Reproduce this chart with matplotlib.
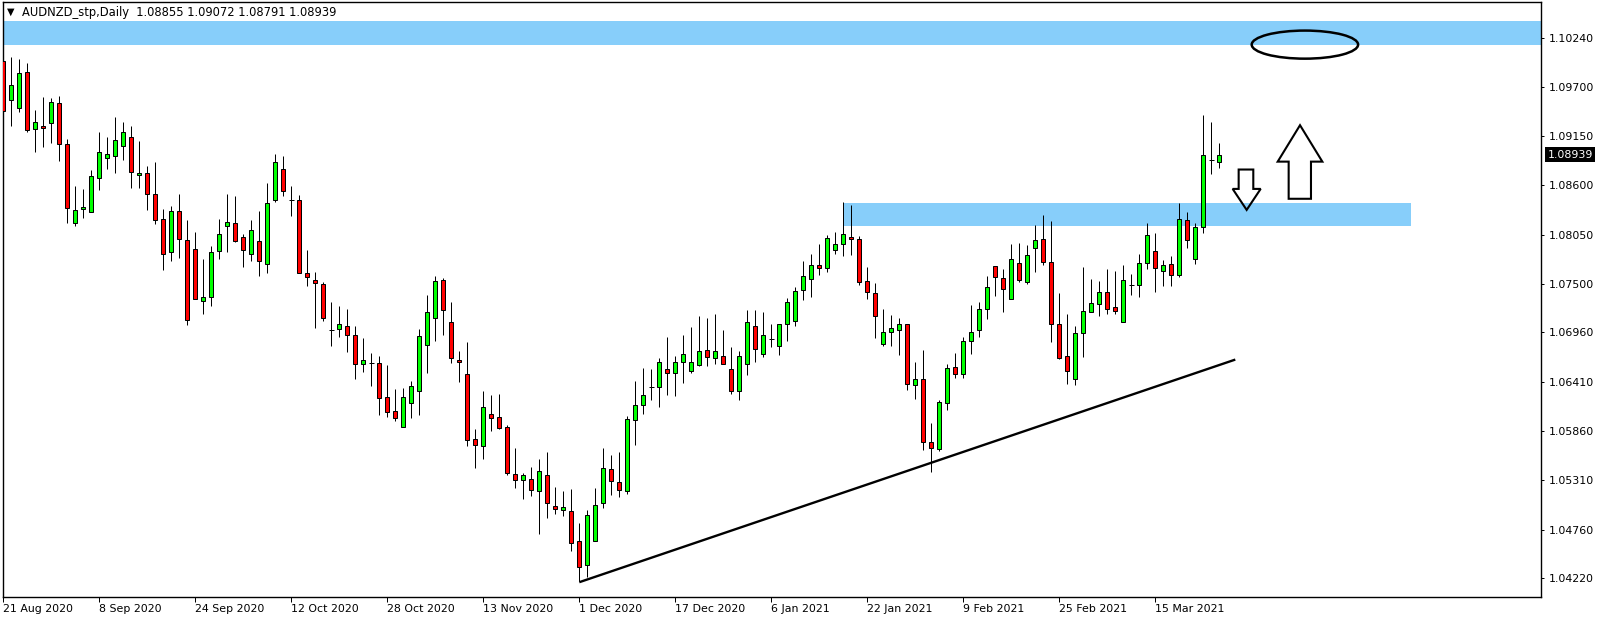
import matplotlib
matplotlib.use("Agg")
import matplotlib.pyplot as plt
import matplotlib.transforms as mtransforms
from matplotlib.patches import Ellipse, Polygon, Rectangle
import numpy as np

# ---------------- data ----------------
symbol_title = "AUDNZD_stp,Daily  1.08855 1.09072 1.08791 1.08939"
last_price_label = "1.08939"
last_price = 1.08939

date_tick_idx = [0, 12, 24, 36, 48, 60, 72, 84, 96, 108, 120, 132, 144]
date_tick_labels = ["21 Aug 2020", "8 Sep 2020", "24 Sep 2020", "12 Oct 2020",
                    "28 Oct 2020", "13 Nov 2020", "1 Dec 2020", "17 Dec 2020",
                    "6 Jan 2021", "22 Jan 2021", "9 Feb 2021", "25 Feb 2021",
                    "15 Mar 2021"]

price_ticks = [1.10240, 1.09700, 1.09150, 1.08600, 1.08050, 1.07500,
               1.06960, 1.06410, 1.05860, 1.05310, 1.04760, 1.04220]
price_tick_labels = ["1.10240", "1.09700", "1.09150", "1.08600", "1.08050", "1.07500",
                     "1.06960", "1.06410", "1.05860", "1.05310", "1.04760", "1.04220"]

opens = [1.09989, 1.09552, 1.09464, 1.09865, 1.09230, 1.09261, 1.09296, 1.09521, 1.09062, 1.08179,
         1.08334, 1.08298, 1.08678, 1.08903, 1.08925, 1.09035, 1.09137, 1.08713, 1.08735, 1.08501,
         1.08223, 1.07853, 1.08312, 1.07989, 1.07888, 1.07305, 1.07350, 1.07866, 1.08144, 1.08179,
         1.08020, 1.07835, 1.07976, 1.07720, 1.08435, 1.08779, 1.08431, 1.08435, 1.07619, 1.07539,
         1.07495, 1.06992, 1.06996, 1.07027, 1.06926, 1.06604, 1.06621, 1.06617, 1.06237, 1.06087,
         1.05906, 1.06176, 1.06308, 1.06824, 1.07124, 1.07544, 1.07080, 1.06657, 1.06493, 1.05774,
         1.05694, 1.06052, 1.06012, 1.05902, 1.05381, 1.05315, 1.05328, 1.05191, 1.05372, 1.05028,
         1.04979, 1.04971, 1.04635, 1.04366, 1.04635, 1.05054, 1.05438, 1.05293, 1.05191, 1.05986,
         1.06153, 1.06352, 1.06352, 1.06555, 1.06511, 1.06626, 1.06533, 1.06599, 1.06767, 1.06679,
         1.06701, 1.06555, 1.06312, 1.06604, 1.07027, 1.06714, 1.06886, 1.06807, 1.07049, 1.07085,
         1.07429, 1.07553, 1.07707, 1.07676, 1.07875, 1.07945, 1.08020, 1.07998, 1.07530, 1.07394,
         1.06833, 1.06961, 1.06983, 1.07058, 1.06379, 1.06436, 1.05739, 1.05659, 1.06176, 1.06573,
         1.06493, 1.06860, 1.06983, 1.07226, 1.07698, 1.07561, 1.07327, 1.07729, 1.07522, 1.07897,
         1.07998, 1.07742, 1.07058, 1.06692, 1.06436, 1.06948, 1.07182, 1.07279, 1.07407, 1.07239,
         1.07071, 1.07486, 1.07486, 1.07729, 1.07866, 1.07641, 1.07720, 1.07605, 1.08210, 1.07782,
         1.08131, 1.08885, 1.08855]
highs = [1.10311, 1.10024, 1.10002, 1.09967, 1.09433, 1.09578, 1.09574, 1.09592, 1.09119, 1.08590,
         1.08563, 1.08775, 1.09190, 1.09133, 1.09358, 1.09300, 1.09256, 1.09097, 1.08819, 1.08863,
         1.08338, 1.08373, 1.08497, 1.08215, 1.08082, 1.07778, 1.07923, 1.08223, 1.08497, 1.08475,
         1.08060, 1.08215, 1.08312, 1.08629, 1.08943, 1.08930, 1.08594, 1.08493, 1.07879, 1.07636,
         1.07517, 1.07301, 1.07252, 1.07222, 1.07032, 1.06895, 1.06727, 1.06696, 1.06595, 1.06326,
         1.06339, 1.06414, 1.06996, 1.07376, 1.07588, 1.07561, 1.07301, 1.06749, 1.06851, 1.05880,
         1.06304, 1.06259, 1.06268, 1.05924, 1.05677, 1.05390, 1.05465, 1.05544, 1.05628, 1.05240,
         1.05187, 1.05218, 1.04838, 1.04979, 1.05231, 1.05677, 1.05589, 1.05628, 1.06030, 1.06414,
         1.06559, 1.06551, 1.06679, 1.06908, 1.06696, 1.06930, 1.07018, 1.07142, 1.07120, 1.07164,
         1.06988, 1.06798, 1.06749, 1.07208, 1.07208, 1.07186, 1.07058, 1.07058, 1.07345, 1.07469,
         1.07756, 1.07835, 1.07945, 1.08047, 1.08078, 1.08413, 1.08382, 1.08038, 1.07689, 1.07513,
         1.07222, 1.07151, 1.07120, 1.07058, 1.06630, 1.06763, 1.05946, 1.06202, 1.06604, 1.06727,
         1.06904, 1.07266, 1.07301, 1.07588, 1.07698, 1.07667, 1.07945, 1.07959, 1.07932, 1.08157,
         1.08272, 1.08206, 1.07398, 1.07164, 1.07032, 1.07689, 1.07557, 1.07535, 1.07667, 1.07645,
         1.07711, 1.07610, 1.07835, 1.08179, 1.08069, 1.07764, 1.07808, 1.08400, 1.08303, 1.08179,
         1.09380, 1.09309, 1.09072]
lows = [1.09384, 1.09265, 1.09415, 1.09194, 1.08969, 1.09027, 1.09075, 1.08868, 1.08184, 1.08144,
        1.08232, 1.08298, 1.08550, 1.08784, 1.08740, 1.08885, 1.08568, 1.08572, 1.08320, 1.08166,
        1.07650, 1.07760, 1.07791, 1.07045, 1.07336, 1.07160, 1.07257, 1.07782, 1.07857, 1.07963,
        1.07694, 1.07756, 1.07583, 1.07623, 1.08409, 1.08479, 1.08259, 1.07619, 1.07478, 1.07014,
        1.07089, 1.06811, 1.06908, 1.06745, 1.06440, 1.06520, 1.06365, 1.06039, 1.06021, 1.05972,
        1.05906, 1.06008, 1.06039, 1.06502, 1.06868, 1.06935, 1.06621, 1.06405, 1.05694, 1.05447,
        1.05544, 1.05862, 1.05884, 1.05368, 1.05222, 1.05103, 1.05134, 1.04710, 1.04887, 1.04935,
        1.04918, 1.04520, 1.04185, 1.04229, 1.04635, 1.05002, 1.05152, 1.05125, 1.05156, 1.05703,
        1.06052, 1.06206, 1.06131, 1.06264, 1.06251, 1.06396, 1.06511, 1.06586, 1.06586, 1.06608,
        1.06612, 1.06273, 1.06206, 1.06489, 1.06635, 1.06687, 1.06802, 1.06710, 1.06868, 1.07032,
        1.07323, 1.07350, 1.07605, 1.07636, 1.07835, 1.07813, 1.07817, 1.07486, 1.07336, 1.06899,
        1.06811, 1.06811, 1.06710, 1.06317, 1.06220, 1.05646, 1.05403, 1.05637, 1.06096, 1.06449,
        1.06454, 1.06723, 1.06908, 1.07111, 1.07367, 1.07182, 1.07327, 1.07522, 1.07504, 1.07636,
        1.07716, 1.06855, 1.06665, 1.06387, 1.06379, 1.06687, 1.07182, 1.07146, 1.07160, 1.07169,
        1.07071, 1.07380, 1.07358, 1.07663, 1.07411, 1.07473, 1.07473, 1.07575, 1.07897, 1.07725,
        1.08064, 1.08722, 1.08791]
closes = [1.09428, 1.09715, 1.09856, 1.09216, 1.09309, 1.09243, 1.09530, 1.09062, 1.08347, 1.08325,
          1.08360, 1.08704, 1.08974, 1.08943, 1.09106, 1.09194, 1.08744, 1.08735, 1.08501, 1.08210,
          1.07831, 1.08312, 1.07998, 1.07094, 1.07336, 1.07350, 1.07853, 1.08056, 1.08188, 1.07976,
          1.07875, 1.08100, 1.07751, 1.08400, 1.08863, 1.08532, 1.08431, 1.07619, 1.07575, 1.07508,
          1.07124, 1.06992, 1.07058, 1.06926, 1.06604, 1.06648, 1.06621, 1.06228, 1.06074, 1.06008,
          1.06237, 1.06361, 1.06917, 1.07182, 1.07530, 1.07204, 1.06679, 1.06635, 1.05761, 1.05703,
          1.06131, 1.06008, 1.05893, 1.05390, 1.05315, 1.05372, 1.05205, 1.05416, 1.05054, 1.04988,
          1.05015, 1.04613, 1.04340, 1.04926, 1.05037, 1.05452, 1.05302, 1.05200, 1.05999, 1.06153,
          1.06259, 1.06352, 1.06626, 1.06502, 1.06626, 1.06714, 1.06635, 1.06758, 1.06683, 1.06749,
          1.06612, 1.06312, 1.06701, 1.07071, 1.06780, 1.06935, 1.06886, 1.07049, 1.07297, 1.07416,
          1.07583, 1.07707, 1.07676, 1.08007, 1.07941, 1.08056, 1.07998, 1.07526, 1.07407, 1.07146,
          1.06961, 1.07005, 1.07058, 1.06387, 1.06445, 1.05739, 1.05672, 1.06189, 1.06568, 1.06493,
          1.06860, 1.06961, 1.07226, 1.07464, 1.07575, 1.07438, 1.07773, 1.07539, 1.07817, 1.07989,
          1.07742, 1.07058, 1.06679, 1.06533, 1.06948, 1.07195, 1.07283, 1.07407, 1.07217, 1.07195,
          1.07539, 1.07486, 1.07729, 1.08042, 1.07676, 1.07716, 1.07597, 1.08223, 1.07989, 1.08135,
          1.08938, 1.08885, 1.08939]

# ---------------- chart drawings (objects placed on the chart) ----------------
top_zone = (1.10165, 1.10430)
mid_zone_x = (105, 176)
mid_zone_y = (1.08148, 1.08404)
trend_x = [72, 154]
trend_y = [1.04176, 1.06657]
ellipse_center = (162.7, 1.10167)
ellipse_size = (13.3, 0.00313)
down_arrow = [(154.42, 1.08775), (156.25, 1.08775), (156.25, 1.08559), (157.17, 1.08559),
              (155.42, 1.08325), (153.67, 1.08559), (154.42, 1.08559)]
up_arrow = [(160.67, 1.08449), (163.46, 1.08449), (163.46, 1.08863), (164.88, 1.08863),
            (162.09, 1.09269), (159.30, 1.08863), (160.67, 1.08863)]

# ---------------- figure ----------------
W, H = 1604, 619
PX = 72.0 / 100.0  # points per pixel
plt.rcParams['font.family'] = ['DejaVu Sans']
fig = plt.figure(figsize=(W / 100, H / 100), dpi=100, facecolor='white')
ax_l, ax_r, ax_t, ax_b = 2.5, 1541.0, 2.0, 597.0
ax = fig.add_axes([ax_l / W, (H - ax_b) / H, (ax_r - ax_l) / W, (ax_b - ax_t) / H])
ax.set_facecolor('white')

o = np.array(opens); h = np.array(highs); l = np.array(lows); c = np.array(closes)
idx = np.arange(len(o))
up = c > o
dn = c < o
dj = c == o

ax.axhspan(top_zone[0], top_zone[1], color='#87CEFA', lw=0, zorder=1)
ax.add_patch(Rectangle((mid_zone_x[0], mid_zone_y[0]), mid_zone_x[1] - mid_zone_x[0],
                       mid_zone_y[1] - mid_zone_y[0], facecolor='#87CEFA', edgecolor='none', zorder=1))

ax.vlines(idx, l, h, color='black', lw=1.0 * PX, zorder=3)
ax.bar(idx[up], (c - o)[up], bottom=o[up], width=0.5, color='#00FF00',
       edgecolor='black', linewidth=1.0 * PX, zorder=4)
ax.bar(idx[dn], (o - c)[dn], bottom=c[dn], width=0.5, color='#FF0000',
       edgecolor='black', linewidth=1.0 * PX, zorder=4)
ax.hlines(o[dj], idx[dj] - 0.31, idx[dj] + 0.31, color='black', lw=1.0 * PX, zorder=4)

ax.plot(trend_x, trend_y, color='black', lw=1.7, solid_capstyle='butt', zorder=5)
ax.add_patch(Ellipse(ellipse_center, ellipse_size[0], ellipse_size[1], fill=False,
                     edgecolor='black', lw=1.8, zorder=6))
ax.add_patch(Polygon(down_arrow, closed=True, fill=False, edgecolor='black', lw=1.5,
                     joinstyle='miter', zorder=6))
ax.add_patch(Polygon(up_arrow, closed=True, fill=False, edgecolor='black', lw=1.5,
                     joinstyle='miter', zorder=6))

ax.set_xlim((ax_l - 3.3) / 8.0, (ax_r - 3.3) / 8.0)
ax.set_ylim(1.04011, 1.10642)

ax.set_xticks(date_tick_idx)
ax.set_xticklabels(date_tick_labels, ha='left')
ax.tick_params(axis='x', direction='out', length=3.6, width=0.72, pad=1.5,
               labelsize=7.9, colors='black')
ax.yaxis.tick_right()
ax.set_yticks(price_ticks)
ax.set_yticklabels(price_tick_labels)
ax.tick_params(axis='y', direction='out', length=2.2, width=0.72, pad=3.5,
               labelsize=7.9, left=False, labelleft=False, right=True, labelright=True)
for s in ax.spines.values():
    s.set_color('black')
    s.set_linewidth(1.0)

trans = mtransforms.blended_transform_factory(ax.transAxes, ax.transData)
ax.text(1.0 + 6.5 / (ax_r - ax_l), last_price, last_price_label, transform=trans,
        color='white', fontsize=7.9, va='center', ha='left', zorder=10,
        bbox=dict(boxstyle='square,pad=0.22', facecolor='black', edgecolor='none'),
        clip_on=False)

fig.text(10.5 / W, 1 - 12.0 / H, "\u25BC", fontsize=7, va='center', ha='center')
fig.text(21.7 / W, 1 - 12.7 / H, symbol_title, fontsize=8.3, va='center', ha='left')

fig.savefig('out.png', dpi=100, facecolor='white')
